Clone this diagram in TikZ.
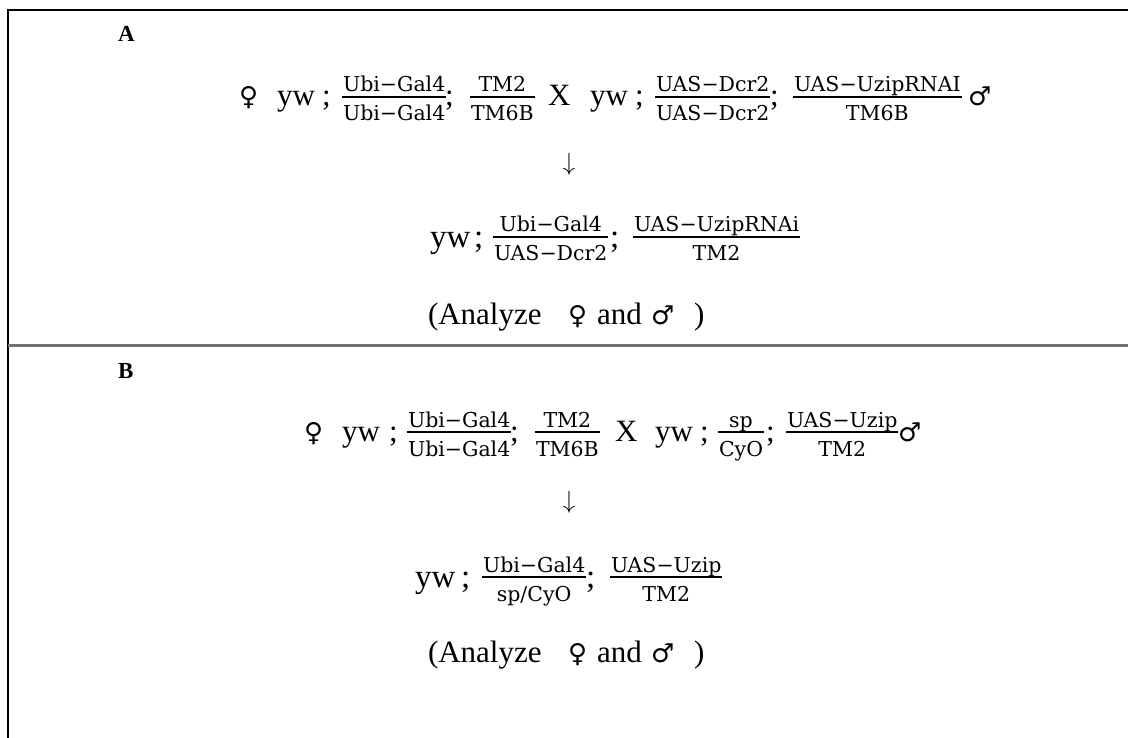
\documentclass[tikz,border=0pt]{standalone}
\usepackage{fontspec}
\setmainfont{Liberation Serif}
\newfontfamily\fracf{DejaVu Serif}
\newfontfamily\symf{DejaVu Sans}
\newlength\numgap \setlength\numgap{5pt}
\newlength\dengap \setlength\dengap{24pt}
\newcommand\gf[2]{%
  \setbox0=\hbox{#1}\setbox2=\hbox{#2}%
  \dimen0=\wd0 \ifdim\wd2>\dimen0 \dimen0=\wd2 \fi
  \advance\dimen0 by 2pt
  \hbox{%
    \raise\numgap\hbox to\dimen0{\hss\box0\hss}%
    \kern-\dimen0
    \vrule width\dimen0 height 0.7pt depth 0.7pt
    \kern-\dimen0
    \lower\dengap\hbox to\dimen0{\hss\box2\hss}}}
\tikzset{
  frame/.style={line width=2pt,black},
  divider/.style={line width=2.5pt,black!55},
  piece/.style={inner sep=0pt,outer sep=0pt,anchor=base west},
  panel/.style={piece,font=\bfseries\fontsize{23}{26}\selectfont},
  crossword/.style={piece,font=\fontsize{31}{34}\selectfont},
  progword/.style={piece,font=\fontsize{33}{36}\selectfont},
  crossfrac/.style={piece,font=\fracf\fontsize{20.5}{24}\selectfont},
  progfrac/.style={piece,font=\fracf\fontsize{20.5}{24}\selectfont},
  sexsym/.style={piece,font=\symf\fontsize{26}{30}\selectfont},
  analyze/.style={piece,font=\fontsize{31}{34}\selectfont},
  arrowglyph/.style={inner sep=0pt,font=\fontsize{30}{34}\selectfont}
}
\begin{document}
\begin{tikzpicture}[x=1pt,y=-1pt]
\useasboundingbox (0,0) rectangle (1128,738);
\coordinate (tl) at (7.5,10.5);
\coordinate (tr) at (1128,10.5);
\coordinate (bl) at (7.5,738);
\coordinate (ml) at (7.5,345.5);
\coordinate (mr) at (1128,345.5);
\draw[frame] (tr) -- (tl) -- (bl);
\draw[divider] (ml) -- (mr);
% ---------- Panel A ----------
\node[panel] (labA) at (118,42) {A};
\node[sexsym]   (a1fem) at (239,106) {♀};
\node[crossword] (a1yw)  at (277,106) {yw};
\node[crossword] (a1s1)  at (322,106) {;};
\node[crossfrac] (a1f1)  at (342,97) {\gf{Ubi−Gal4}{Ubi−Gal4}};
\node[crossword] (a1s2)  at (445,106) {;};
\node[crossfrac] (a1f2)  at (470,97) {\gf{TM2}{TM6B}};
\node[crossword] (a1x)   at (548,106) {X};
\node[crossword] (a1yw2) at (590,106) {yw};
\node[crossword] (a1s3)  at (635,106) {;};
\node[crossfrac] (a1f3)  at (655,97) {\gf{UAS−Dcr2}{UAS−Dcr2}};
\node[crossword] (a1s4)  at (770,106) {;};
\node[crossfrac] (a1f4)  at (793,97) {\gf{UAS−UzipRNAI}{TM6B}};
\node[sexsym]   (a1mal) at (968,106) {♂};
\node[arrowglyph] (arA) at (569,164) {$\downarrow$};
\node[progword] (a2yw)  at (430,248) {yw};
\node[progword] (a2s1)  at (474,248) {;};
\node[progfrac] (a2f1)  at (493,237) {\gf{Ubi−Gal4}{UAS−Dcr2}};
\node[progword] (a2s2)  at (610,248) {;};
\node[progfrac] (a2f2)  at (633,237) {\gf{UAS−UzipRNAi}{TM2}};
\node[analyze] (a3open) at (428,324) {(Analyze};
\node[sexsym]  (a3fem)  at (568,324) {♀};
\node[analyze] (a3and)  at (597,324) {and};
\node[sexsym]  (a3mal)  at (651,324) {♂};
\node[analyze] (a3close) at (694,324) {)};
% ---------- Panel B ----------
\node[panel] (labB) at (118,378) {B};
\node[sexsym]   (b1fem) at (304,441) {♀};
\node[crossword] (b1yw)  at (342,441) {yw};
\node[crossword] (b1s1)  at (389,441) {;};
\node[crossfrac] (b1f1)  at (407,432) {\gf{Ubi−Gal4}{Ubi−Gal4}};
\node[crossword] (b1s2)  at (510,441) {;};
\node[crossfrac] (b1f2)  at (535,432) {\gf{TM2}{TM6B}};
\node[crossword] (b1x)   at (615,441) {X};
\node[crossword] (b1yw2) at (655,441) {yw};
\node[crossword] (b1s3)  at (700,441) {;};
\node[crossfrac] (b1f3)  at (718,432) {\gf{sp}{CyO}};
\node[crossword] (b1s4)  at (766,441) {;};
\node[crossfrac] (b1f4)  at (786,432) {\gf{UAS−Uzip}{TM2}};
\node[sexsym]   (b1mal) at (898,441) {♂};
\node[arrowglyph] (arB) at (569,502) {$\downarrow$};
\node[progword] (b2yw)  at (415,587) {yw};
\node[progword] (b2s1)  at (461,587) {;};
\node[progfrac] (b2f1)  at (482,577) {\gf{Ubi−Gal4}{sp/CyO}};
\node[progword] (b2s2)  at (586,587) {;};
\node[progfrac] (b2f2)  at (610,577) {\gf{UAS−Uzip}{TM2}};
\node[analyze] (b3open) at (428,662) {(Analyze};
\node[sexsym]  (b3fem)  at (568,662) {♀};
\node[analyze] (b3and)  at (597,662) {and};
\node[sexsym]  (b3mal)  at (651,662) {♂};
\node[analyze] (b3close) at (694,662) {)};
\end{tikzpicture}
\end{document}
